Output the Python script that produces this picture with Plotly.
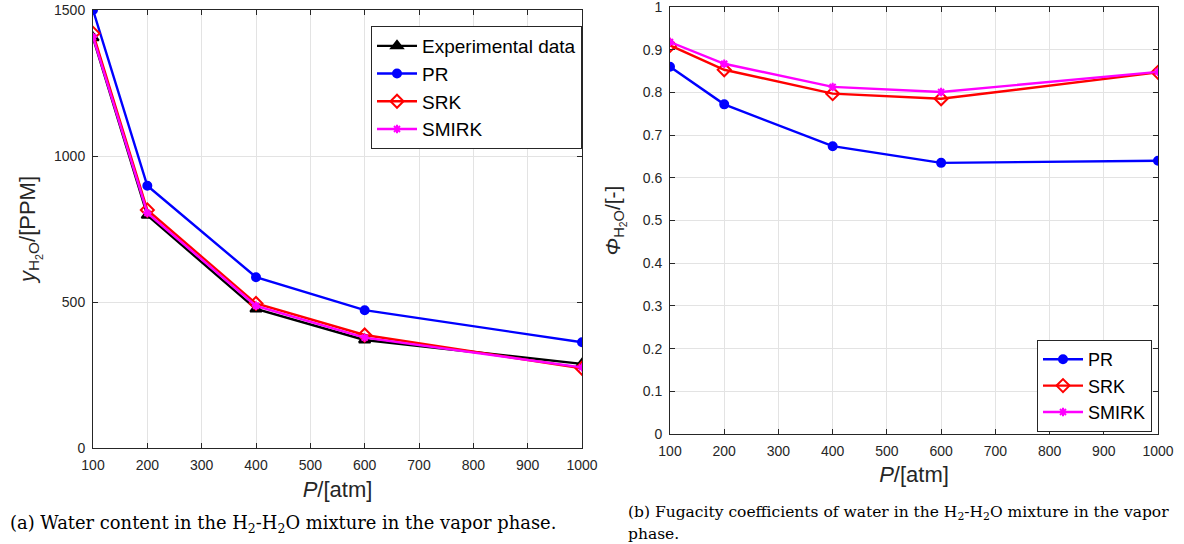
import plotly.graph_objects as go

pressure = [100, 200, 400, 600, 1000]

# (a) water content, PPM
exp_y = [1405, 797, 476, 370, 288]
pr_y = [1500, 898, 585, 472, 362]
srk_y = [1420, 815, 495, 387, 273]
smirk_y = [1408, 805, 487, 378, 276]

# (b) fugacity coefficients
pr_phi = [0.860, 0.772, 0.674, 0.635, 0.640]
srk_phi = [0.910, 0.853, 0.797, 0.785, 0.847]
smirk_phi = [0.918, 0.867, 0.813, 0.801, 0.848]

xticks = [100, 200, 300, 400, 500, 600, 700, 800, 900, 1000]

FONT = "Liberation Sans, Arial, sans-serif"
SERIF = "DejaVu Serif, Liberation Serif, serif"

fig = go.Figure()

def add(x, y, name, color, symbol, xa, ya, legend, msize=8):
    fig.add_trace(go.Scatter(
        x=x, y=y, name=name, mode="lines+markers",
        line=dict(color=color, width=2.4),
        marker=dict(symbol=symbol, color=color, size=msize,
                    line=dict(color=color, width=2)),
        xaxis=xa, yaxis=ya, legend=legend, cliponaxis=True))

add(pressure, exp_y, "Experimental data", "black", "triangle-up", "x", "y", "legend", 10)
add(pressure, pr_y, "PR", "#0000ff", "circle", "x", "y", "legend", 8)
add(pressure, srk_y, "SRK", "#ff0000", "diamond-open", "x", "y", "legend", 10)
add(pressure, smirk_y, "SMIRK", "#ff00ff", "asterisk-open", "x", "y", "legend", 7)

add(pressure, pr_phi, "PR", "#0000ff", "circle", "x2", "y2", "legend2", 8)
add(pressure, srk_phi, "SRK", "#ff0000", "diamond-open", "x2", "y2", "legend2", 10)
add(pressure, smirk_phi, "SMIRK", "#ff00ff", "asterisk-open", "x2", "y2", "legend2", 7)

W, H = 1184, 544
def px(x): return x / W
def py(y): return 1 - y / H

axis_common = dict(
    showline=True, linecolor="#262626", linewidth=1, mirror="ticks",
    ticks="inside", ticklen=5, tickcolor="#262626",
    showgrid=True, gridcolor="#e3e3e3", gridwidth=1, zeroline=False,
    tickfont=dict(family=FONT, size=14, color="#262626"),
    automargin=False, ticklabeloverflow="allow",
)

fig.update_layout(
    width=W, height=H, margin=dict(l=0, r=0, t=0, b=0, autoexpand=False),
    paper_bgcolor="white", plot_bgcolor="white",
    font=dict(family=FONT, color="#262626"),
    xaxis=dict(domain=[px(93), px(582)], range=[100, 1000], tickvals=xticks,
               anchor="y", ticklabelstandoff=4,
               title=dict(text="<i>P</i>/[atm]", font=dict(size=22, family=FONT), standoff=9),
               **axis_common),
    yaxis=dict(domain=[py(448), py(10)], range=[0, 1500], tickvals=[0, 500, 1000, 1500],
               anchor="x", ticklabelstandoff=4,
               title=dict(text="<i>y</i><sub>H<sub>2</sub>O</sub>/[PPM]", font=dict(size=22, family=FONT), standoff=12),
               **axis_common),
    xaxis2=dict(domain=[px(670), px(1158)], range=[100, 1000], tickvals=xticks,
                anchor="y2", ticklabelstandoff=4,
                title=dict(text="<i>P</i>/[atm]", font=dict(size=22, family=FONT), standoff=8),
                **axis_common),
    yaxis2=dict(domain=[py(434), py(7)], range=[0, 1],
                tickvals=[0, 0.1, 0.2, 0.3, 0.4, 0.5, 0.6, 0.7, 0.8, 0.9, 1],
                ticktext=["0", "0.1", "0.2", "0.3", "0.4", "0.5", "0.6", "0.7", "0.8", "0.9", "1"],
                anchor="x2", ticklabelstandoff=4,
                title=dict(text="<i>Φ</i><sub>H<sub>2</sub>O</sub>/[-]", font=dict(size=21, family=FONT), standoff=16),
                **axis_common),
    legend=dict(x=px(582), y=py(26), xanchor="right", yanchor="top",
                bgcolor="white", bordercolor="#262626", borderwidth=1,
                font=dict(family=FONT, size=19, color="black"),
                tracegroupgap=0, itemwidth=40),
    legend2=dict(x=px(1152), y=py(340), xanchor="right", yanchor="top",
                 bgcolor="white", bordercolor="#262626", borderwidth=1,
                 font=dict(family=FONT, size=18, color="black"),
                 tracegroupgap=0, itemwidth=40),
    showlegend=True,
)

fig.add_annotation(
    text="(a) Water content in the H<sub>2</sub>-H<sub>2</sub>O mixture in the vapor phase.",
    xref="paper", yref="paper", x=px(8), y=py(524), xanchor="left", yanchor="middle",
    showarrow=False, font=dict(family=SERIF, size=17.9, color="black"))
fig.add_annotation(
    text="(b) Fugacity coefficients of water in the H<sub>2</sub>-H<sub>2</sub>O mixture in the vapor",
    xref="paper", yref="paper", x=px(626), y=py(513), xanchor="left", yanchor="middle",
    showarrow=False, font=dict(family=SERIF, size=15.5, color="black"))
fig.add_annotation(
    text="phase.",
    xref="paper", yref="paper", x=px(626), y=py(534), xanchor="left", yanchor="middle",
    showarrow=False, font=dict(family=SERIF, size=15.5, color="black"))

fig.write_html("out.html")
